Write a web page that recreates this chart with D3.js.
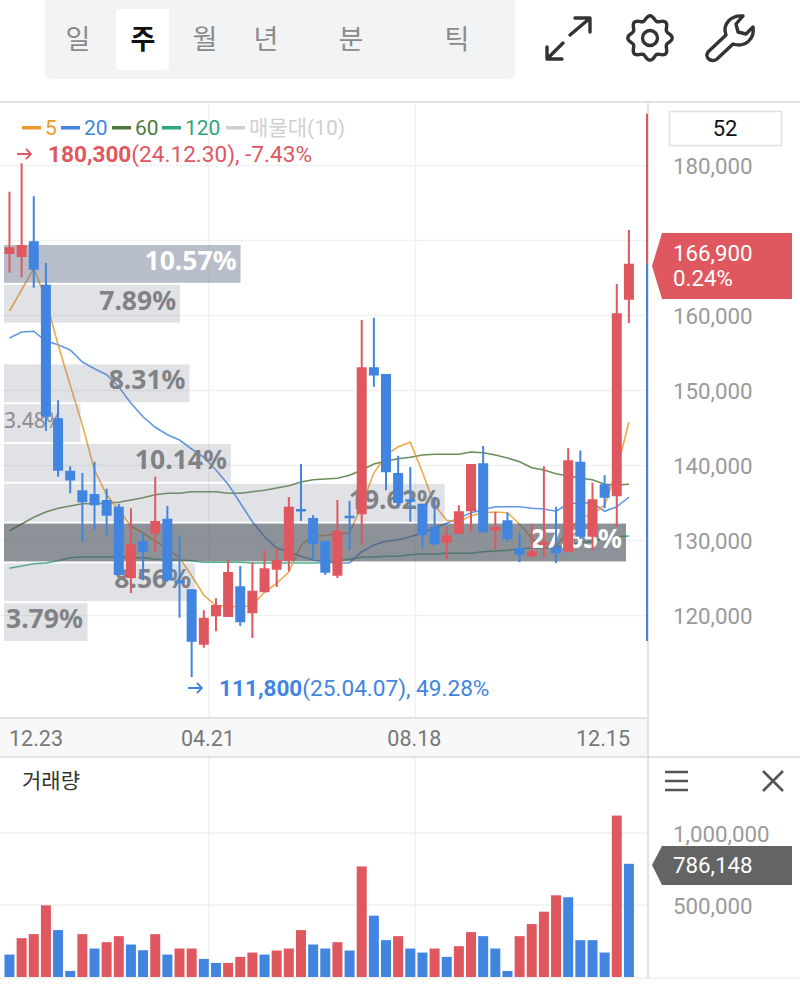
<!DOCTYPE html>
<html>
<head>
<meta charset="utf-8">
<script src="https://cdn.jsdelivr.net/npm/d3@7/dist/d3.min.js"></script>
<style>
    html, body { margin: 0; padding: 0; background: #fff; }
    svg { display: block; }
    text { font-family: Roboto, "Noto Sans CJK KR", sans-serif; }
    .kr { font-family: "Noto Sans CJK KR", sans-serif; }
</style>
</head>
<body>
<div id="chart"></div>
<script>
var opens = [168200, 167800, 169900, 164100, 146300, 139300, 136700, 136200, 135400, 134500, 125000, 129900, 130900, 132900, 124700, 123500, 116100, 119900, 119800, 123900, 120300, 123100, 126100, 127300, 134200, 133000, 129900, 125300, 133300, 133500, 153100, 152200, 139000, 135500, 134900, 131800, 129700, 130900, 133900, 140300, 131300, 132700, 129000, 127900, 129400, 129100, 128500, 140500, 130500, 137500, 135900, 162100];
var closes = [169100, 169400, 166100, 146500, 139300, 138000, 135100, 134700, 133300, 125400, 129500, 128500, 132600, 124700, 124300, 116500, 119700, 121400, 125800, 119100, 123300, 126300, 127400, 134500, 133900, 129500, 125700, 131300, 133000, 153100, 152000, 139100, 135000, 135300, 130700, 129500, 130700, 133900, 140200, 131100, 131800, 130200, 128100, 128600, 129800, 128300, 140700, 130500, 135500, 135700, 160300, 166900];
var highs = [176500, 180300, 175900, 167000, 148700, 139900, 139000, 140500, 136900, 134900, 134300, 131000, 138500, 134600, 130700, 123500, 120700, 122300, 127400, 126600, 127100, 128700, 129000, 135800, 140200, 133400, 129900, 135400, 135300, 159400, 159700, 152200, 141300, 139800, 134900, 135800, 131800, 134700, 140200, 142600, 133800, 133700, 131000, 132200, 139900, 134500, 142300, 142000, 137700, 138700, 164200, 171400];
var lows = [165700, 165100, 163700, 144600, 138500, 136300, 129800, 131500, 130700, 125400, 123000, 124700, 128500, 124500, 119700, 111800, 115700, 117900, 119800, 118600, 117000, 123100, 123800, 125900, 132600, 127400, 125400, 125000, 128700, 129400, 150500, 136700, 134300, 132500, 128900, 129300, 127500, 130900, 131100, 131100, 128700, 129800, 127100, 127700, 127700, 127000, 128500, 130200, 128700, 134300, 131800, 159000];

var ma5 = [160600, 163400, 166300, 162100, 156100, 150700, 145400, 139400, 136100, 134100, 131900, 131000, 129900, 128900, 127700, 125300, 122700, 121300, 121300, 121100, 121400, 123100, 124300, 125800, 129400, 130500, 130700, 130900, 131000, 134700, 139000, 141400, 142500, 143100, 139100, 134700, 132700, 132500, 133300, 133700, 133800, 133700, 132200, 130300, 129100, 129100, 131400, 133000, 133500, 134700, 139400, 145800];
var ma20 = [157000, 157800, 157900, 156600, 156100, 155400, 153800, 152900, 152100, 150500, 148300, 146500, 145100, 144100, 143400, 142200, 141100, 139400, 137500, 135000, 132500, 130500, 129000, 128500, 127900, 127400, 127100, 127000, 127000, 128500, 129400, 129900, 130100, 130500, 131000, 131700, 132300, 133000, 133700, 134100, 134500, 134500, 134500, 134300, 134200, 133900, 134900, 135000, 135000, 133900, 134500, 135800];
var ma60 = [131300, 132200, 133100, 133800, 134300, 134600, 134900, 134900, 135000, 135100, 135400, 135700, 136100, 136300, 136300, 136500, 136500, 136500, 136300, 136300, 136500, 136700, 137000, 137300, 137800, 138100, 138200, 138300, 138700, 139400, 140200, 140600, 140900, 141100, 141400, 141500, 141500, 141500, 141800, 141700, 141400, 141000, 140500, 139700, 139400, 138900, 138600, 138300, 138100, 137500, 137400, 137500];
var ma120 = [126300, 126600, 126900, 127000, 127300, 127700, 127800, 127800, 127800, 127800, 127700, 127700, 127500, 127400, 127400, 127300, 127100, 127100, 127100, 127100, 127000, 127000, 127000, 127000, 127000, 127000, 127000, 127300, 127500, 127800, 127800, 127900, 127900, 128100, 128200, 128200, 128300, 128300, 128300, 128500, 128600, 128700, 128900, 129000, 129000, 129100, 129400, 129700, 129900, 130300, 130500, 130600];

var volumes = [155800, 269800, 297700, 497800, 325600, 41900, 297700, 197700, 241900, 283800, 225600, 186100, 297700, 155800, 197700, 197700, 125600, 97700, 97700, 139600, 169800, 155800, 183800, 197700, 325600, 225600, 197700, 241900, 183800, 767600, 425700, 255900, 283800, 197700, 169800, 197700, 139600, 214000, 311700, 283800, 197700, 41900, 283800, 367500, 453600, 567500, 553600, 255900, 255900, 169800, 1121000, 786148];
var volumeColors = ["b", "r", "r", "r", "b", "b", "r", "b", "r", "r", "b", "b", "r", "b", "r", "r", "b", "b", "r", "r", "r", "b", "r", "r", "r", "b", "b", "r", "b", "r", "b", "b", "r", "b", "b", "r", "b", "r", "r", "b", "b", "b", "r", "r", "r", "r", "b", "b", "b", "b", "r", "b"];

var profilePercents = [10.57, 7.89, 0, 8.31, 3.48, 10.14, 19.62, 27.65, 8.56, 3.79];
var profileHigh = 169400;
var profileLow = 116600;

var gridTicks = [180000, 170000, 160000, 150000, 140000, 130000, 120000];
var priceTicks = [180000, 160000, 150000, 140000, 130000, 120000];
var volumeTicks = [1000000, 500000];
var dateLabels = ["12.23", "04.21", "08.18", "12.15"];
var dateIndexes = [0, 17, 34, 51];
var tabLabels = ["일", "주", "월", "년", "분", "틱"];
var tabCenters = [78, 143, 205, 266, 351, 457];

var RED = "#e0585f";
var BLUE = "#4285e0";
var ORANGE = "#eb9a2c";
var GREEN = "#4d7a3c";
var TEAL = "#2fa67c";
var GRID = "#f0f1f2";
var LINE = "#d9d9d9";

var svg = d3.select("#chart").append("svg")
    .attr("width", 800)
    .attr("height", 993);

var x = d3.scaleBand()
    .domain(d3.range(opens.length))
    .range([3.4, 635]);

var y = d3.scaleLinear()
    .domain([120000, 180000])
    .range([615.5, 165.5]);

var yVol = d3.scaleLinear()
    .domain([0, 1000000])
    .range([977, 833]);

var cx = function (i) {
    return x(i) + x.bandwidth() / 2;
};

// top tabs
svg.append("rect").attr("x", 45).attr("y", -8).attr("width", 470).attr("height", 87).attr("rx", 6).attr("fill", "#f2f3f5");
svg.append("rect").attr("x", 116).attr("y", 9).attr("width", 53).attr("height", 61).attr("rx", 4).attr("fill", "#fff");
svg.append("g").selectAll("text")
    .data(tabLabels)
    .enter()
    .append("text")
    .attr("class", "kr")
    .attr("x", function (d, i) { return tabCenters[i]; })
    .attr("y", 49)
    .attr("text-anchor", "middle")
    .attr("font-size", 27)
    .attr("font-weight", function (d) { return d === "주" ? 700 : 400; })
    .attr("fill", function (d) { return d === "주" ? "#111" : "#8a8a8a"; })
    .text(function (d) { return d; });

// toolbar icons
var icons = svg.append("g").attr("fill", "none").attr("stroke", "#333").attr("stroke-width", 3.4).attr("stroke-linecap", "round").attr("stroke-linejoin", "round");
icons.append("path").attr("d", "M548 58L563 43M570 35L589 19M547 47V59H562M575 18H590V32");
var gearPoints = d3.range(64).map(function (i) {
    return [i * Math.PI * 2 / 64, 20 + 2.2 * Math.cos(i * Math.PI * 2 * 8 / 64)];
});
icons.append("path")
    .attr("transform", "translate(650,38)")
    .attr("d", d3.lineRadial().curve(d3.curveCardinalClosed)(gearPoints));
icons.append("circle").attr("cx", 650).attr("cy", 38).attr("r", 7.5);
icons.append("path").attr("d", "M708 52L726 35C722 24 731 15 743 16L736 24L738 32L746 34L753 27C755 38 746 48 733 44L717 59C712 63 704 58 708 52Z");

// horizontal and vertical grid
var grid = svg.append("g").attr("stroke", GRID).attr("stroke-width", 1.5);
grid.selectAll(".gy")
    .data(gridTicks)
    .enter()
    .append("line")
    .attr("x1", 0)
    .attr("x2", 647)
    .attr("y1", function (d) { return y(d); })
    .attr("y2", function (d) { return y(d); });
grid.selectAll(".gv")
    .data(volumeTicks)
    .enter()
    .append("line")
    .attr("x1", 0)
    .attr("x2", 647)
    .attr("y1", function (d) { return yVol(d); })
    .attr("y2", function (d) { return yVol(d); });
grid.selectAll(".gx")
    .data(dateIndexes.slice(1, 3))
    .enter()
    .append("line")
    .attr("x1", function (d) { return x(d) - 1; })
    .attr("x2", function (d) { return x(d) - 1; })
    .attr("y1", 102)
    .attr("y2", 977);

// date strip and frame
svg.append("rect").attr("x", 0).attr("y", 718).attr("width", 647).attr("height", 39).attr("fill", "#f8f8f8");
var frame = svg.append("g").attr("stroke", LINE).attr("stroke-width", 1.5);
frame.append("line").attr("x1", 0).attr("x2", 800).attr("y1", 102).attr("y2", 102);
frame.append("line").attr("x1", 0).attr("x2", 647).attr("y1", 718).attr("y2", 718);
frame.append("line").attr("x1", 0).attr("x2", 800).attr("y1", 757).attr("y2", 757);
frame.append("line").attr("x1", 0).attr("x2", 800).attr("y1", 978).attr("y2", 978).attr("stroke", "#eee");
frame.append("line").attr("x1", 648).attr("x2", 648).attr("y1", 102).attr("y2", 978);

// moving averages
var maLine = d3.line()
    .x(function (d, i) { return cx(i); })
    .y(function (d) { return y(d); });
var maSeries = [
    { values: ma120, color: TEAL },
    { values: ma60, color: GREEN },
    { values: ma20, color: BLUE },
    { values: ma5, color: ORANGE }
];
svg.append("g").selectAll("path")
    .data(maSeries)
    .enter()
    .append("path")
    .attr("fill", "none")
    .attr("stroke", function (d) { return d.color; })
    .attr("stroke-width", 1.6)
    .attr("opacity", 0.85)
    .attr("d", function (d) { return maLine(d.values); });

// volume profile
var maxProfile = d3.max(profilePercents);
var secondProfile = profilePercents[0];
var profileY = d3.scaleBand()
    .domain(d3.range(profilePercents.length))
    .range([y(profileHigh), y(profileLow)])
    .paddingInner(0.05);
var profileX = d3.scaleLinear()
    .domain([0, maxProfile])
    .range([2, 626]);

var profile = svg.append("g");
profile.selectAll("rect")
    .data(profilePercents.filter(function (d) { return d > 0; }))
    .enter()
    .append("rect")
    .attr("x", 4)
    .attr("y", function (d) { return profileY(profilePercents.indexOf(d)); })
    .attr("width", function (d) { return profileX(d) - 4; })
    .attr("height", profileY.bandwidth())
    .attr("fill", function (d) {
        if (d === maxProfile) {
            return "rgba(80,90,97,0.66)";
        }
        return d === secondProfile ? "rgba(111,125,147,0.5)" : "rgba(130,135,145,0.24)";
    });
profile.selectAll("text")
    .data(profilePercents.filter(function (d) { return d > 0; }))
    .enter()
    .append("text")
    .attr("x", function (d) {
        if (d === 3.48) {
            return 4;
        }
        return d === 3.79 ? 6 : profileX(d) - 4;
    })
    .attr("y", function (d) { return profileY(profilePercents.indexOf(d)) + profileY.bandwidth() / 2 + (d === 3.48 ? 4.5 : 6); })
    .attr("text-anchor", function (d) { return d < 5 ? "start" : "end"; })
    .style("font-family", "'Noto Sans'")
    .attr("font-size", function (d) { return d === 3.48 ? 21 : 26.5; })
    .attr("font-weight", function (d) { return d === 3.48 ? 400 : 700; })
    .attr("fill", function (d) {
        if (d === maxProfile || d === secondProfile) {
            return "#fff";
        }
        return d === 3.48 ? "#8b8d90" : "#808285";
    })
    .text(function (d) { return d.toFixed(2) + "%"; });

// candles
var candles = svg.append("g").selectAll("g")
    .data(opens)
    .enter()
    .append("g")
    .attr("fill", function (d, i) { return closes[i] >= d ? RED : BLUE; });
candles.append("rect")
    .attr("x", function (d, i) { return cx(i) - 1; })
    .attr("width", 2)
    .attr("y", function (d, i) { return y(highs[i]); })
    .attr("height", function (d, i) { return y(lows[i]) - y(highs[i]); });
candles.append("rect")
    .attr("x", function (d, i) { return cx(i) - 5; })
    .attr("width", 10)
    .attr("y", function (d, i) { return y(Math.max(d, closes[i])); })
    .attr("height", function (d, i) { return Math.max(2.5, Math.abs(y(d) - y(closes[i]))); });

// year range gauge at the axis edge
svg.append("rect").attr("x", 646).attr("width", 2).attr("y", y(186900)).attr("height", y(166900) - y(186900)).attr("fill", RED);
svg.append("rect").attr("x", 646).attr("width", 2).attr("y", y(166900)).attr("height", y(116600) - y(166900)).attr("fill", BLUE);

// volume bars
svg.append("g").selectAll("rect")
    .data(volumes)
    .enter()
    .append("rect")
    .attr("x", function (d, i) { return cx(i) - 5; })
    .attr("width", 10)
    .attr("y", function (d) { return yVol(d); })
    .attr("height", function (d) { return yVol(0) - yVol(d); })
    .attr("fill", function (d, i) { return volumeColors[i] === "r" ? RED : BLUE; });

// right axes
var priceAxis = d3.axisRight(y).tickValues(priceTicks).tickSize(0).tickPadding(0).tickFormat(d3.format(","));
var volAxis = d3.axisRight(yVol).tickValues(volumeTicks).tickSize(0).tickPadding(0).tickFormat(d3.format(","));
[priceAxis, volAxis].forEach(function (a) {
    var g = svg.append("g").attr("transform", "translate(673,1)").call(a);
    g.select(".domain").remove();
    g.selectAll("text").attr("font-size", 22.3).attr("fill", "#9a9a9a").style("font-family", "Roboto");
});

// price tag
svg.append("polygon").attr("points", "652,266 662,233 792,233 792,299 662,299").attr("fill", RED);
svg.append("text").attr("x", 673).attr("y", 261).attr("font-size", 22.3).attr("fill", "#fff").text("166,900");
svg.append("text").attr("x", 673).attr("y", 286).attr("font-size", 22.3).attr("fill", "#fff").text("0.24%");

// volume tag
svg.append("polygon").attr("points", "652,865 662,846 792,846 792,885 662,885").attr("fill", "#636464");
svg.append("text").attr("x", 673).attr("y", 873).attr("font-size", 22.3).attr("fill", "#fff").text(d3.format(",")(volumes[51]));

// period box
svg.append("rect").attr("x", 669.5).attr("y", 111.5).attr("width", 112).attr("height", 34).attr("fill", "#fff").attr("stroke", "#e0e0e0").attr("stroke-width", 1.5);
svg.append("text").attr("x", 725).attr("y", 136).attr("text-anchor", "middle").attr("font-size", 22).attr("fill", "#111").text("52");

// date labels
svg.append("g").selectAll("text")
    .data(dateLabels)
    .enter()
    .append("text")
    .attr("x", function (d, i) {
        if (i === 0) {
            return 9;
        }
        return i === 3 ? 630 : x(dateIndexes[i]) - 2;
    })
    .attr("y", 746)
    .attr("text-anchor", function (d, i) {
        if (i === 0) {
            return "start";
        }
        return i === 3 ? "end" : "middle";
    })
    .attr("font-size", 21.5)
    .attr("fill", "#777")
    .text(function (d) { return d; });

// legend
var legendKeys = [
    { label: "5", color: ORANGE, x: 22 },
    { label: "20", color: BLUE, x: 61 },
    { label: "60", color: GREEN, x: 112 },
    { label: "120", color: TEAL, x: 162 },
    { label: "매물대(10)", color: "#cfcfcf", x: 226 }
];
var legend = svg.append("g").selectAll("g")
    .data(legendKeys)
    .enter()
    .append("g");
legend.append("rect")
    .attr("x", function (d) { return d.x; })
    .attr("y", 126)
    .attr("width", 19)
    .attr("height", 3.5)
    .attr("fill", function (d) { return d.color; });
legend.append("text")
    .attr("x", function (d) { return d.x + 23; })
    .attr("y", 135)
    .attr("font-size", 21)
    .attr("fill", function (d) { return d.color; })
    .text(function (d) { return d.label; });

// high and low notes
var high = d3.max(highs);
var low = d3.min(lows);
var fmt = d3.format(",");
function note(px, py, color, value, rest) {
    var t = svg.append("text").attr("x", px).attr("y", py).attr("font-size", 22.6).attr("fill", color);
    t.append("tspan").attr("font-weight", 700).text(fmt(value));
    t.append("tspan").text(rest);
    svg.append("path")
        .attr("d", "M" + (px - 31) + " " + (py - 8) + "H" + (px - 17) + "M" + (px - 22) + " " + (py - 13) + "L" + (px - 17) + " " + (py - 8) + "L" + (px - 22) + " " + (py - 3))
        .attr("fill", "none")
        .attr("stroke", color)
        .attr("stroke-width", 1.8);
}
note(48, 162, RED, high, "(24.12.30), -7.43%");
note(219, 696, BLUE, low, "(25.04.07), 49.28%");

// volume panel header
svg.append("text").attr("class", "kr").attr("x", 22).attr("y", 788).attr("font-size", 21).attr("fill", "#333").text("거래량");
var tools = svg.append("g").attr("stroke", "#555").attr("stroke-width", 2.6).attr("fill", "none");
tools.append("path").attr("d", "M665 772H688M665 781H688M665 790H688");
tools.append("path").attr("d", "M763 771L783 791M783 771L763 791");
</script>
</body>
</html>
